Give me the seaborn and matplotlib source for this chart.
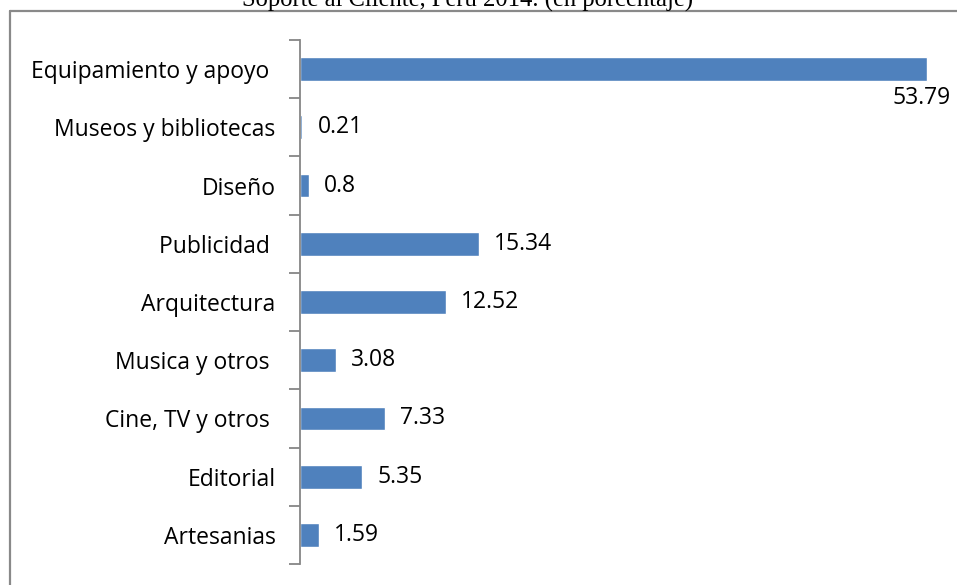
import matplotlib
matplotlib.use("Agg")
import matplotlib.pyplot as plt
from matplotlib.lines import Line2D
from matplotlib.ticker import FixedLocator
import seaborn as sns
import pandas as pd

categories = ["Equipamiento y apoyo ", "Museos y bibliotecas", "Diseño", "Publicidad ",
              "Arquitectura", "Musica y otros ", "Cine, TV y otros ", "Editorial", "Artesanias"]
values = [53.79, 0.21, 0.8, 15.34, 12.52, 3.08, 7.33, 5.35, 1.59]
value_labels = ["53.79", "0.21", "0.8", "15.34", "12.52", "3.08", "7.33", "5.35", "1.59"]
title = "Soporte al Cliente, Perú 2014. (en porcentaje)"

df = pd.DataFrame({"categoria": categories, "valor": values})

sns.set_theme(style="white")
plt.rcParams["font.family"] = ["Open Sans", "DejaVu Sans"]

W, H = 957, 585
FS = 16.5
fig = plt.figure(figsize=(W / 100, H / 100), dpi=100)
fig.patch.set_facecolor("white")

ax_left, ax_right = 300, 941
ax_top, ax_bottom = 40, 564
ax = fig.add_axes([ax_left / W, 1 - ax_bottom / H, (ax_right - ax_left) / W, (ax_bottom - ax_top) / H])

sns.barplot(data=df, y="categoria", x="valor", orient="h", color="#4F81BD",
            width=0.41, saturation=1, ax=ax, order=categories)

ax.set_xlim(0, 55)
ax.set_ylim(len(categories) - 0.5, -0.5)
ax.set_xlabel("")
ax.set_ylabel("")
ax.set_facecolor("none")

for side in ["top", "right", "bottom"]:
    ax.spines[side].set_visible(False)
ax.spines["left"].set_color("#868686")
ax.spines["left"].set_linewidth(1.3)
ax.xaxis.set_visible(False)

# category labels at bar centres, tick marks at category boundaries
ax.tick_params(axis="y", which="major", length=0, pad=17.5, labelsize=FS, labelcolor="black")
ax.yaxis.set_minor_locator(FixedLocator([i - 0.5 for i in range(len(categories) + 1)]))
ax.tick_params(axis="y", which="minor", length=8, width=1.3, color="#868686", left=True)

for i, (v, lab) in enumerate(zip(values, value_labels)):
    if v > 40:
        ax.annotate(lab, xy=(v, i + 0.5), xytext=(-5, 0), textcoords="offset pixels",
                    ha="center", va="center", fontsize=FS, color="black")
    else:
        ax.annotate(lab, xy=(v, i), xytext=(15, 0), textcoords="offset pixels",
                    ha="left", va="center", fontsize=FS, color="black")

# frame lines (top and left)
fig.add_artist(Line2D([10 / W, 1.0], [1 - 11 / H, 1 - 11 / H], transform=fig.transFigure,
                      color="#898989", linewidth=1.6))
fig.add_artist(Line2D([10 / W, 10 / W], [0, 1 - 11 / H], transform=fig.transFigure,
                      color="#898989", linewidth=1.6))

fig.text(0.489, 1 - 7 / H, title, ha="center", va="baseline", fontsize=17.7,
         family=["Liberation Serif", "DejaVu Serif"], color="black")

fig.savefig("out.png", dpi=100)
